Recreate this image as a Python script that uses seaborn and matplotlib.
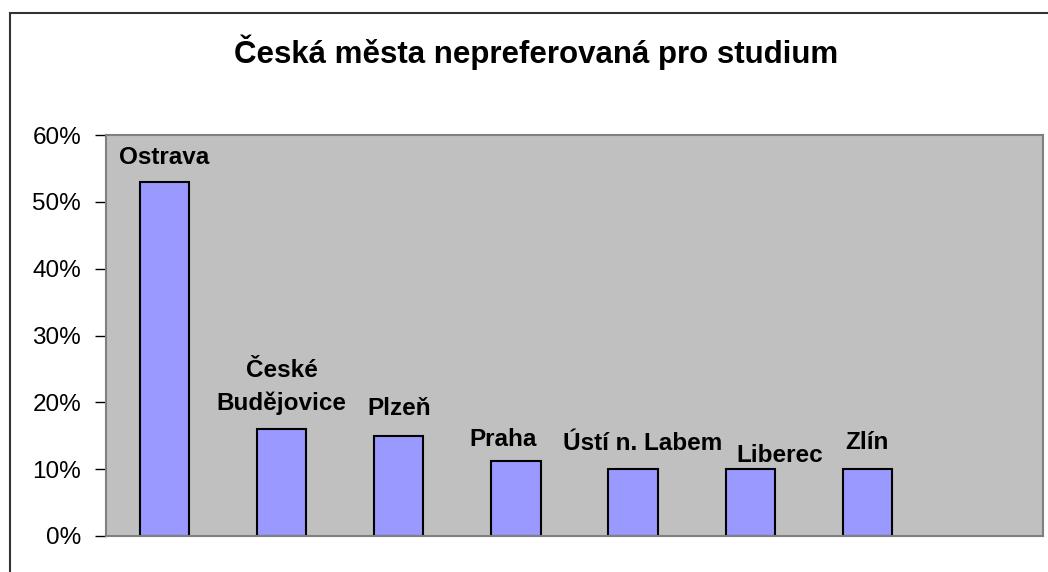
import matplotlib
matplotlib.use("Agg")
import matplotlib.pyplot as plt
import matplotlib.patches as mpatches
from matplotlib.ticker import PercentFormatter, MultipleLocator
import seaborn as sns

# data
cities = ["Ostrava", "České\nBudějovice", "Plzeň", "Praha", "Ústí n. Labem", "Liberec", "Zlín"]
shares = [53.0, 16.0, 15.0, 11.2, 10.0, 10.0, 10.0]
title = "Česká města nepreferovaná pro studium"

# label nudges in pixels (dx, dy above bar top), Excel placed them unevenly
label_nudge = {
    "Ostrava": (0, 18),
    "České\nBudějovice": (0, 19),
    "Plzeň": (0, 21),
    "Praha": (-13, 15),
    "Ústí n. Labem": (10, 19),
    "Liberec": (30, 7),
    "Zlín": (0, 20),
}

W, H = 1048, 572
sns.set_style("white")
plt.rcParams["font.family"] = ["Liberation Sans", "DejaVu Sans"]
plt.rcParams["text.color"] = "black"

fig = plt.figure(figsize=(W / 100, H / 100), dpi=100)
ax = fig.add_axes([106 / W, 1 - 536 / H, (1043 - 106) / W, (536 - 135) / H])
ax.set_facecolor("#C0C0C0")

sns.barplot(x=cities, y=shares, color="#9999FF", saturation=1, width=0.42,
            edgecolor="black", linewidth=1.5, ax=ax)

ax.set_xlim(-0.5, 7.5)
ax.set_ylim(0, 60)
ax.yaxis.set_major_locator(MultipleLocator(10))
ax.yaxis.set_major_formatter(PercentFormatter(decimals=0))
ax.set_xticks([])
ax.set_xlabel("")
ax.set_ylabel("")
ax.tick_params(axis="y", left=True, length=8, width=1, color="black",
               pad=10, labelsize=17.5, labelcolor="black")
for s in ax.spines.values():
    s.set_visible(True)
    s.set_color("#808080")
    s.set_linewidth(1.5)

for i, (name, val) in enumerate(zip(cities, shares)):
    dx, dy = label_nudge[name]
    ax.annotate(name, xy=(i, val), xytext=(dx, dy), textcoords="offset pixels",
                ha="center", va="baseline", fontsize=17.5, fontweight="bold",
                color="black", linespacing=1.5, multialignment="center")

fig.text(536 / W, 1 - 63 / H, title, ha="center", va="baseline",
         fontsize=22.5, fontweight="bold", color="black")

# chart area border
fig.patches.append(mpatches.Rectangle((10 / W, -0.1), 1.2, (H - 13) / H + 0.1,
                                      transform=fig.transFigure, fill=False,
                                      edgecolor="#333333", linewidth=1.5))

fig.savefig("out.png", dpi=100)
